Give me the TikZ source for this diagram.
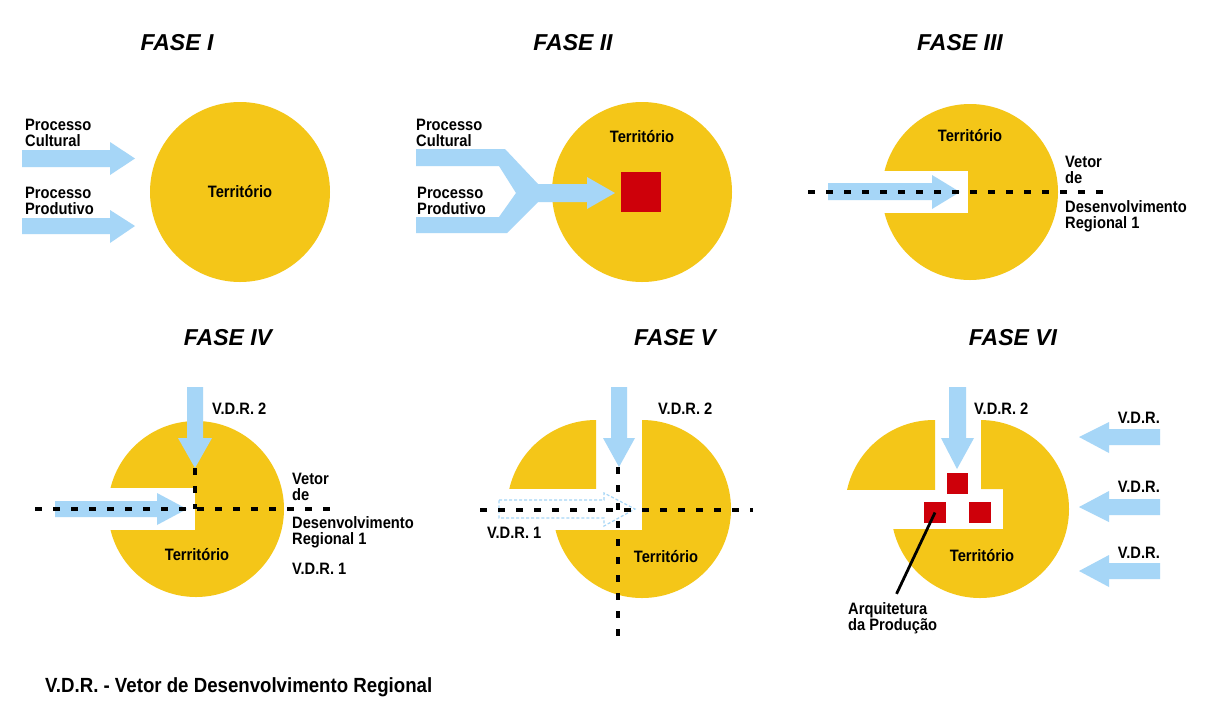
\documentclass[tikz,border=0pt]{standalone}
\usepackage{fontspec}
\setmainfont{Liberation Sans}
\newfontfamily\condfont{Liberation Sans}[FakeStretch=0.89]
\newfontfamily\footfont{Liberation Sans}[FakeStretch=0.91]
\definecolor{terr}{RGB}{244,198,24}
\definecolor{vblue}{RGB}{166,214,247}
\definecolor{vred}{RGB}{206,0,10}
\tikzset{
  ttl/.style={font=\fontsize{23}{26}\selectfont\bfseries\itshape, inner sep=0pt},
  lbl/.style={font=\condfont\fontsize{16.5}{16}\selectfont\bfseries, inner sep=0pt, align=left},
  foot/.style={font=\footfont\fontsize{20.5}{22}\selectfont\bfseries, inner sep=0pt},
  vec/.style={fill=vblue},
  terrfill/.style={fill=terr},
  axis/.style={line width=3.4pt, dash pattern=on 7pt off 11pt, black},
  prod/.style={fill=vred},
}
\begin{document}
\begin{tikzpicture}[x=1pt,y=-1pt]
\useasboundingbox (0,0) rectangle (1206,713);
\fill[white] (0,0) rectangle (1206,713);

% ---------------- FASE I ----------------
\node[ttl] (t1) at (177,43) {FASE I};
\fill[terrfill] (240,192) circle (90);
\node[lbl] (ter1) at (240,192) {Território};
\fill[vec] (22,150) -- (110,150) -- (110,142) -- (135,158.5) -- (110,175) -- (110,167) -- (22,167) -- cycle;
\fill[vec] (22,218) -- (110,218) -- (110,210) -- (135,226) -- (110,243) -- (110,234) -- (22,234) -- cycle;
\node[lbl, anchor=west] (pc1) at (25,133) {Processo\\Cultural};
\node[lbl, anchor=west] (pp1) at (25,201) {Processo\\Produtivo};

% ---------------- FASE II ----------------
\node[ttl] (t2) at (573,43) {FASE II};
\fill[terrfill] (642,192) circle (90);
\node[lbl] (ter2) at (642,137) {Território};
\fill[vec] (416,149) -- (505,149) -- (538,184) -- (587,184) -- (587,177) -- (615,193)
  -- (587,209) -- (587,202) -- (538,202) -- (507,233) -- (416,233) -- (416,217)
  -- (499,217) -- (516,193) -- (499,166) -- (416,166) -- cycle;
\node[prod, minimum size=40pt, inner sep=0pt] (sq2) at (640.5,192) {};
\node[lbl, anchor=west] (pc2) at (416,133) {Processo\\Cultural};
\node[lbl, anchor=west] (pp2) at (417,201) {Processo\\Produtivo};

% ---------------- FASE III ----------------
\node[ttl] (t3) at (960,43) {FASE III};
\fill[terrfill] (970,192) circle (88);
\fill[white] (870,171) rectangle (968,213);
\node[lbl] (ter3) at (970,136) {Território};
\fill[vec] (828,183) -- (932,183) -- (932,175) -- (960,192) -- (932,209) -- (932,200) -- (828,200) -- cycle;
\coordinate (h3a) at (808,192);
\coordinate (h3b) at (1108,192);
\draw[axis] (h3a) -- (h3b);
\node[lbl, anchor=west] (v3a) at (1065,170) {Vetor\\de};
\node[lbl, anchor=west] (v3b) at (1065,216) {Desenvolvimento\\Regional 1};

% ---------------- FASE IV ----------------
\node[ttl] (t4) at (228,338) {FASE IV};
\fill[terrfill] (196,509) circle (88);
\fill[white] (100,488) rectangle (195,530);
\node[lbl] (ter4) at (197,555) {Território};
\fill[vec] (187,387) -- (203,387) -- (203,438) -- (212,438) -- (195,468) -- (178,438) -- (187,438) -- cycle;
\fill[vec] (55,501) -- (157,501) -- (157,493) -- (187,509) -- (157,525) -- (157,517) -- (55,517) -- cycle;
\coordinate (h4a) at (35,509);
\coordinate (h4b) at (335,509);
\coordinate (v4a) at (195,468);
\coordinate (v4b) at (195,509);
\draw[axis] (h4a) -- (h4b);
\draw[axis] (v4a) -- (v4b);
\node[lbl, anchor=west] (l4v2) at (212,409) {V.D.R. 2};
\node[lbl, anchor=west] (l4a) at (292,487) {Vetor\\de};
\node[lbl, anchor=west] (l4b) at (292,532) {Desenvolvimento\\Regional 1};
\node[lbl, anchor=west] (l4v1) at (292,569) {V.D.R. 1};

% ---------------- FASE V ----------------
\node[ttl] (t5) at (675,338) {FASE V};
\begin{scope}
  \clip (642,410) -- (740,410) -- (740,610) -- (540,610) -- (540,530) -- (642,530) -- cycle;
  \fill[terrfill] (642,509) circle (89);
\end{scope}
\begin{scope}[xshift=-46pt]
  \clip (540,410) rectangle (642,488);
  \fill[terrfill] (642,509) circle (89);
\end{scope}
\node[lbl] (ter5) at (666,557) {Território};
\draw[vblue, line width=1.2pt, dash pattern=on 3pt off 2pt]
  (499,500) -- (604,500) -- (604,493) -- (635,509) -- (604,526) -- (604,518) -- (499,518) -- cycle;
\fill[vec] (611,387) -- (627,387) -- (627,438) -- (635,438) -- (619,467) -- (603,438) -- (611,438) -- cycle;
\coordinate (h5a) at (480,510);
\coordinate (h5b) at (753,510);
\coordinate (v5a) at (618,467);
\coordinate (v5b) at (618,645);
\draw[axis] (h5a) -- (h5b);
\draw[axis] (v5a) -- (v5b);
\node[lbl, anchor=west] (l5v2) at (658,409) {V.D.R. 2};
\node[lbl, anchor=west] (l5v1) at (487,533) {V.D.R. 1};

% ---------------- FASE VI ----------------
\node[ttl] (t6) at (1013,338) {FASE VI};
\begin{scope}
  \clip (981,410) -- (1080,410) -- (1080,610) -- (880,610) -- (880,529) -- (1003,529) -- (1003,489) -- (981,489) -- cycle;
  \fill[terrfill] (980,509) circle (89);
\end{scope}
\begin{scope}[xshift=-46pt]
  \clip (880,410) rectangle (981,489);
  \fill[terrfill] (980,509) circle (89);
\end{scope}
\node[lbl] (ter6) at (982,556) {Território};
\fill[vec] (949,387) -- (966,387) -- (966,438) -- (974,438) -- (957,469) -- (941,438) -- (949,438) -- cycle;
\node[prod, minimum size=21.5pt, inner sep=0pt] (s6a) at (957.5,483.5) {};
\node[prod, minimum size=21.5pt, inner sep=0pt] (s6b) at (935,512.5) {};
\node[prod, minimum size=21.5pt, inner sep=0pt] (s6c) at (980,512.5) {};
\node[lbl, anchor=north west] (arq) at (848,602) {Arquitetura\\da Produção};
\draw[line width=2.8pt, black, shorten >=9pt] (s6b.center) -- (arq.north);
\node[lbl, anchor=west] (l6v2) at (974,409) {V.D.R. 2};
\fill[vec] (1160,429) -- (1109,429) -- (1109,422) -- (1079,437) -- (1109,453) -- (1109,445) -- (1160,445) -- cycle;
\fill[vec] (1160,499) -- (1109,499) -- (1109,491) -- (1079,507) -- (1109,522) -- (1109,515) -- (1160,515) -- cycle;
\fill[vec] (1160,563) -- (1109,563) -- (1109,555) -- (1079,571) -- (1109,587) -- (1109,579) -- (1160,579) -- cycle;
\node[lbl, anchor=east] (r1) at (1160,418) {V.D.R.};
\node[lbl, anchor=east] (r2) at (1160,487) {V.D.R.};
\node[lbl, anchor=east] (r3) at (1160,553) {V.D.R.};

% ---------------- footer ----------------
\node[foot, anchor=west] (legend) at (45,687) {V.D.R. - Vetor de Desenvolvimento Regional};
\end{tikzpicture}
\end{document}
